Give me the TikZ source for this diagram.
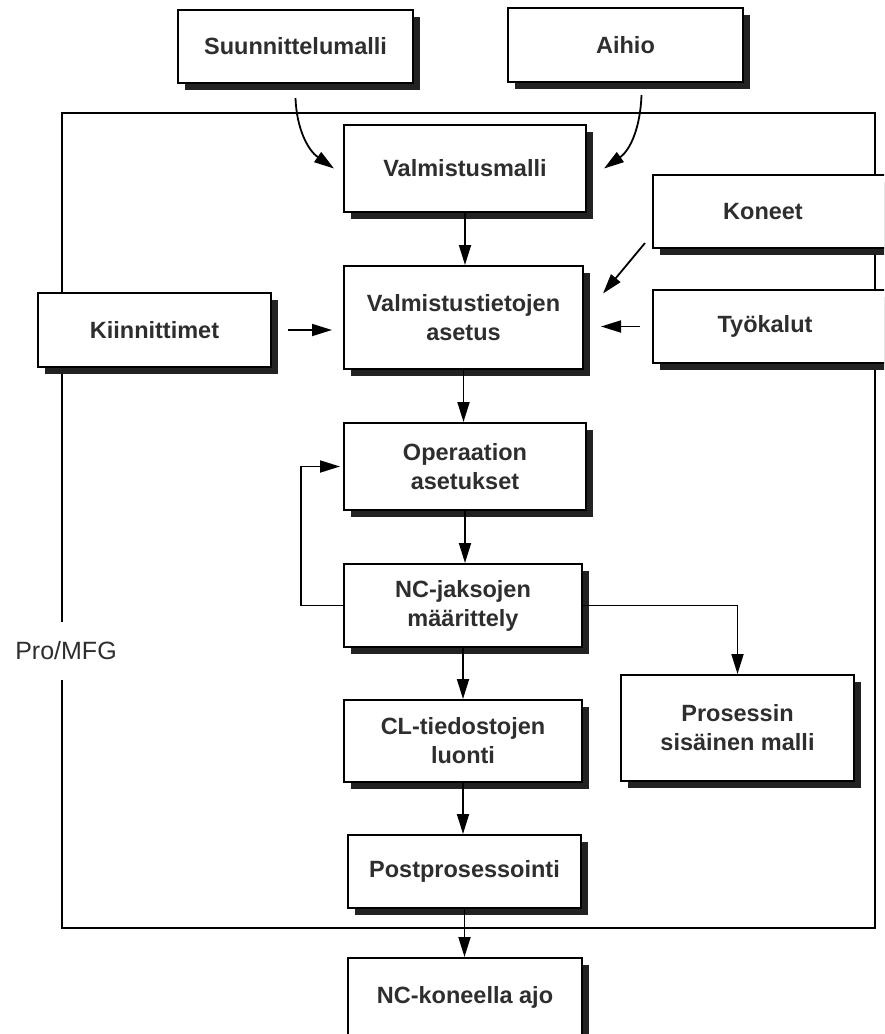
\documentclass[tikz,border=0pt]{standalone}
\usepackage{fontspec}
\setmainfont{Liberation Sans}
\usetikzlibrary{arrows.meta,positioning,shadows,calc}
\definecolor{ink}{HTML}{2E2E2E}
\definecolor{shade}{HTML}{222222}
\tikzset{
  stage/.style={draw=black, line width=1pt, fill=white, text=ink, align=center,
    inner sep=0pt, font=\fontsize{11.75}{14.5}\selectfont\bfseries,
    drop shadow={shadow xshift=3.5pt, shadow yshift=-3.5pt, fill=shade, opacity=1}},
  flow/.style={-{Triangle[length=10pt,width=6pt]}, line width=0.9pt},
  frame/.style={line width=1.3pt},
}

\begin{document}
\begin{tikzpicture}[x=0.5pt, y=-0.5pt]
  \clip (0,0) rectangle (884,1034);
  \fill[white] (0,0) rectangle (884,1034);
  % Pro/MFG frame
  \coordinate (fnw) at (62,113);
  \coordinate (fse) at (875,928);
  \draw[frame] (fnw) rectangle (fse);
  \node[font=\fontsize{12.5}{15}\selectfont, text=ink, fill=white, inner xsep=2pt, inner ysep=10pt] (promfg) at (66,651) {Pro/MFG};
  % inputs
  \node[stage, minimum width=117.5pt, minimum height=36.5pt] (suun) at (295.5,46.5) {Suunnittelumalli};
  \node[stage, minimum width=117.5pt, minimum height=37pt] (aihio) at (625.5,45) {Aihio};
  \node[stage, minimum width=118pt, minimum height=36.5pt] (koneet) at (771,211.5) {Koneet\hspace*{8pt}};
  \node[stage, minimum width=118pt, minimum height=36.5pt] (tyo) at (771,326.5) {Työkalut\hspace*{6pt}};
  \node[stage, minimum width=116.5pt, minimum height=37pt] (kiinn) at (154.5,330) {Kiinnittimet};
  % main chain
  \node[stage, minimum width=121pt, minimum height=43.5pt] (valm) at (465,168.5) {Valmistusmalli};
  \node[stage, minimum width=119.5pt, minimum height=51.5pt] (vtiet) at (463.5,317.5) {Valmistustietojen\\asetus};
  \node[stage, minimum width=121pt, minimum height=43.5pt] (oper) at (465,466.5) {Operaation\\asetukset};
  \node[stage, minimum width=119pt, minimum height=41.5pt] (ncj) at (463,605.5) {NC-jaksojen\\määrittely};
  \node[stage, minimum width=116.5pt, minimum height=53pt] (proc) at (737.5,728) {Prosessin\\sisäinen malli};
  \node[stage, minimum width=119pt, minimum height=41pt] (cl) at (463,741) {CL-tiedostojen\\luonti};
  \node[stage, minimum width=116.5pt, minimum height=36.5pt] (post) at (464.5,871.5) {Postprosessointi};
  \node[stage, minimum width=117pt, minimum height=39pt] (ncko) at (465,997) {NC-koneella ajo};
  % connectors
  \draw[flow] ([yshift=-7pt]suun.south) to[out=-88, in=145] ([xshift=-4.5pt]valm.west);
  \draw[flow] ([xshift=8pt,yshift=-6pt]aihio.south) to[out=-92, in=35] ([xshift=8.5pt]valm.east);
  \draw[flow] ([xshift=-3.5pt,yshift=3pt]koneet.south west) -- ($(vtiet.east)+(9.5pt,12pt)$);
  \draw[flow] ([xshift=-6pt]tyo.west) -- ($(vtiet.east |- tyo.west)+(8.5pt,0)$);
  \draw[flow] ([xshift=8pt]kiinn.east) -- ($(vtiet.west |- kiinn.east)+(-5.5pt,0)$);
  \draw[flow] (valm.south) -- (valm.south |- vtiet.north);
  \draw[flow] (vtiet.south) -- (vtiet.south |- oper.north);
  \draw[flow] (oper.south) -- (oper.south |- ncj.north);
  \draw[flow] (ncj.south) -- (ncj.south |- cl.north);
  \draw[flow] (cl.south) -- (cl.south |- post.north);
  \draw[flow] (post.south) -- (post.south |- ncko.north);
  \draw[flow] (ncj.west) -- ++(-21pt,0) |- ([xshift=-1.5pt]oper.west);
  \draw[flow] (ncj.east) -| (proc.north);
\end{tikzpicture}
\end{document}
